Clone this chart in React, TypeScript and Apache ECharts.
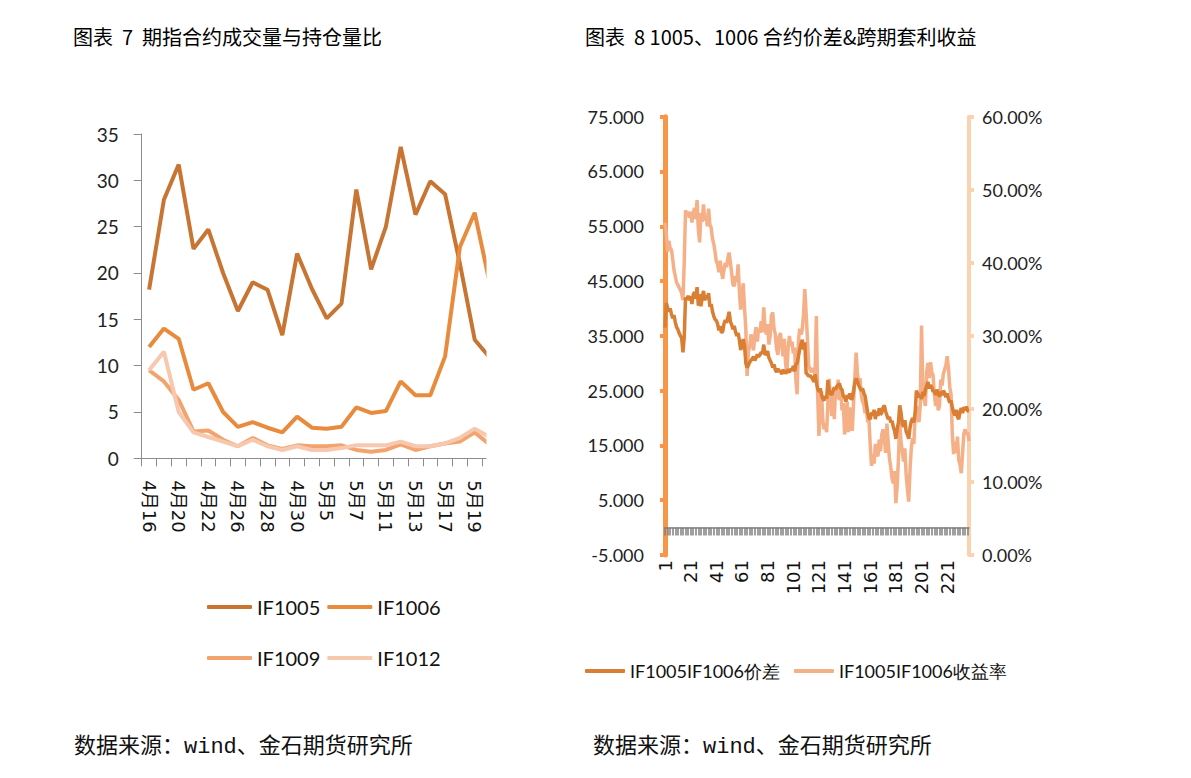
import React, { useEffect, useRef } from "react";
import * as echarts from "echarts";

// ---------- Left chart: 期指合约成交量与持仓量比 ----------
const leftCats = [
  "4月16", "4月19", "4月20", "4月21", "4月22", "4月23", "4月26", "4月27",
  "4月28", "4月29", "4月30", "5月4", "5月5", "5月6", "5月7", "5月10",
  "5月11", "5月12", "5月13", "5月14", "5月17", "5月18", "5月19", "5月20",
];
const if1005 = [18.2, 27.9, 31.7, 22.6, 24.7, 20.0, 15.9, 19.0, 18.2, 13.3, 22.1, 18.3, 15.1, 16.7, 29.0, 20.4, 25.0, 33.6, 26.3, 29.9, 28.5, 21.0, 12.8, 10.9];
const if1006 = [12.0, 14.0, 12.9, 7.4, 8.1, 5.0, 3.4, 3.9, 3.3, 2.8, 4.5, 3.3, 3.2, 3.4, 5.5, 4.9, 5.1, 8.3, 6.8, 6.8, 11.0, 22.8, 26.5, 19.0];
const if1009 = [9.5, 8.3, 6.3, 2.9, 3.0, 2.0, 1.3, 2.2, 1.4, 1.0, 1.4, 1.3, 1.3, 1.4, 0.9, 0.7, 0.9, 1.5, 0.9, 1.3, 1.6, 1.8, 2.8, 1.5];
const if1012 = [9.5, 11.5, 5.0, 2.8, 2.3, 1.8, 1.3, 2.0, 1.3, 0.9, 1.3, 0.9, 0.9, 1.1, 1.4, 1.4, 1.4, 1.8, 1.3, 1.3, 1.6, 2.2, 3.2, 2.3];

// ---------- Right chart: 1005、1006 合约价差 & 跨期套利收益 ----------
const spread = [
  36.5, 41.0, 40.2, 39.5, 40.0, 39.0, 38.2, 38.8, 37.5, 36.6,
  36.2, 35.5, 35.0, 34.6, 32.0, 34.8, 42.0, 41.6, 42.3, 41.5,
  42.2, 40.8, 42.5, 43.0, 41.8, 43.9, 40.5, 42.6, 40.4, 42.0,
  43.2, 41.5, 42.4, 41.7, 42.8, 40.3, 40.8, 39.5, 38.6, 38.0,
  37.8, 37.2, 36.0, 36.8, 35.6, 35.8, 37.2, 37.9, 37.4, 38.3,
  39.4, 37.6, 37.0, 36.2, 36.8, 35.7, 35.0, 35.5, 34.2, 32.4,
  33.4, 34.4, 33.2, 30.0, 29.2, 29.6, 30.2, 30.5, 30.8, 31.2,
  30.5, 31.0, 31.6, 31.2, 31.5, 32.0, 31.8, 33.4, 31.5, 31.8,
  32.2, 31.0, 30.5, 30.0, 29.2, 29.8, 28.8, 28.4, 29.0, 28.5,
  28.6, 28.0, 28.8, 28.5, 28.2, 28.4, 28.9, 28.3, 29.0, 28.6,
  29.5, 28.5, 29.8, 30.0, 31.2, 32.5, 33.5, 34.3, 32.5, 33.8,
  28.2, 28.0, 27.6, 27.8, 27.5, 27.2, 26.6, 28.0, 26.5, 25.3,
  24.8, 25.4, 24.2, 23.6, 23.2, 24.0, 23.5, 26.9, 25.0, 24.5,
  24.2, 25.0, 25.6, 25.2, 25.8, 26.0, 26.3, 25.4, 25.2, 24.0,
  23.8, 23.0, 24.2, 23.6, 24.5, 23.4, 23.6, 25.0, 26.5, 27.2,
  26.8, 26.0, 25.5, 25.0, 25.4, 24.6, 24.0, 22.5, 21.0, 20.0,
  19.8, 21.0, 20.5, 21.5, 19.8, 21.2, 20.4, 21.8, 20.6, 21.0,
  21.9, 22.3, 21.2, 20.5, 19.8, 20.2, 19.2, 19.5, 18.4, 17.6,
  16.2, 18.0, 19.2, 22.3, 21.0, 19.0, 18.4, 19.6, 17.5, 17.0,
  16.2, 18.2, 19.4, 20.0, 19.2, 21.0, 25.0, 24.5, 23.8, 24.2,
  23.5, 24.8, 24.0, 25.2, 25.8, 26.6, 25.4, 26.0, 25.6, 24.8,
  25.0, 24.2, 25.2, 24.5, 23.9, 24.8, 24.2, 25.0, 24.6, 23.8,
  24.5, 23.5, 22.8, 23.2, 22.0, 21.0, 20.5, 21.5, 20.2, 19.8,
  21.2, 21.8, 20.9, 22.0, 21.4, 22.1, 21.3, 21.2,
];
const yieldPct = [
  45.5, 44.0, 41.5, 43.0, 42.0, 41.8, 40.5, 39.0, 38.2, 37.3,
  37.0, 36.6, 36.3, 35.8, 34.9, 40.0, 47.2, 46.5, 47.0, 46.2,
  47.0, 45.5, 46.8, 47.5, 46.0, 48.6, 44.5, 42.8, 46.8, 45.6,
  48.0, 45.8, 46.6, 45.0, 47.4, 45.2, 44.8, 43.3, 42.6, 41.5,
  40.2, 39.8, 38.7, 40.3, 38.8, 37.8, 39.0, 40.0, 39.4, 40.6,
  41.4, 40.0, 38.5, 37.0, 36.8, 38.2, 37.4, 39.8, 36.0, 33.6,
  35.5, 37.2, 33.8, 31.0, 24.5, 27.8, 28.5, 30.2, 29.6, 28.0,
  30.0, 31.2, 29.2, 31.0, 30.4, 32.0, 30.5, 33.9, 31.0, 30.2,
  31.6, 28.8, 30.0, 32.8, 33.2, 31.0, 30.2, 28.2, 27.4, 29.8,
  30.4, 28.6, 27.2, 29.6, 26.2, 24.8, 28.4, 30.0, 28.6, 29.2,
  27.6, 28.4, 24.0, 22.0, 29.2, 31.0, 30.2, 30.8, 33.0, 36.4,
  33.2, 29.8, 26.0, 25.4, 25.0, 25.6, 25.2, 24.8, 32.7, 22.0,
  16.3, 19.5, 22.4, 18.5, 17.2, 18.0, 16.8, 21.0, 24.1, 21.0,
  19.0, 22.2, 18.6, 23.0, 21.4, 24.0, 21.2, 22.6, 19.8, 20.8,
  16.5, 17.8, 21.0, 16.8, 20.2, 18.6, 17.0, 20.8, 24.4, 27.7,
  25.0, 23.4, 24.2, 22.0, 21.0, 20.6, 19.4, 20.0, 18.2, 18.6,
  15.0, 12.2, 13.8, 12.5, 15.2, 14.0, 13.5, 15.8, 14.2, 16.5,
  17.2, 16.0, 14.0, 18.0, 15.5, 13.2, 12.0, 10.5, 9.8, 11.5,
  7.1, 9.4, 13.2, 18.1, 15.5, 14.2, 12.8, 14.6, 11.0, 9.0,
  7.3, 11.6, 14.6, 16.0, 15.2, 18.8, 20.4, 19.0, 18.2, 20.5,
  31.4, 23.0, 21.2, 20.4, 25.0, 26.3, 24.2, 26.4, 25.0, 24.6,
  22.0, 20.4, 22.6, 19.8, 20.4, 24.0, 23.2, 24.8, 25.4, 26.0,
  27.2, 25.5, 23.0, 22.0, 16.5, 13.8, 15.5, 14.0, 16.2, 13.0,
  12.4, 11.2, 14.0, 16.6, 17.2, 16.5, 16.8, 15.6,
];
const rightCats = spread.map((_, i) => String(i + 1));

const NUM_FONT = "Lato, 'Noto Sans', sans-serif";
const ROT_FONT = "'DejaVu Sans', 'Noto Sans CJK SC', sans-serif";
const CJK_FONT = "'Noto Sans CJK SC', sans-serif";
const FOOT_FONT = "'Liberation Mono', 'Noto Sans CJK SC', monospace";

export default function App() {
  const ref = useRef<HTMLDivElement>(null);

  useEffect(() => {
    if (!ref.current) return;
    const chart = echarts.init(ref.current, undefined, { renderer: "svg" });

    const leftColors = ["#C87533", "#E98B3C", "#F3A46E", "#F7C7AE"];

    const legendBase = {
      padding: 0,
      icon: "roundRect",
      itemHeight: 4,
    };

    const option: any = {
      animation: false,
      backgroundColor: "#ffffff",
      title: [
        {
          text: "图表  7  期指合约成交量与持仓量比",
          left: 73, top: 26, padding: 0,
          textStyle: { fontFamily: CJK_FONT, fontSize: 20, fontWeight: "normal", color: "#000" },
        },
        {
          text: "图表  8 1005、1006 合约价差&跨期套利收益",
          left: 585, top: 26, padding: 0,
          textStyle: { fontFamily: CJK_FONT, fontSize: 20, fontWeight: "normal", color: "#000" },
        },
        {
          text: "数据来源：wind、金石期货研究所",
          left: 74, top: 736, padding: 0,
          textStyle: { fontFamily: FOOT_FONT, fontSize: 22, fontWeight: "normal", color: "#111" },
        },
        {
          text: "数据来源：wind、金石期货研究所",
          left: 593, top: 736, padding: 0,
          textStyle: { fontFamily: FOOT_FONT, fontSize: 22, fontWeight: "normal", color: "#111" },
        },
      ],
      legend: [
        {
          ...legendBase,
          data: ["IF1005", "IF1006"],
          left: 207, top: 597,
          itemWidth: 45, itemGap: 7,
          textStyle: { fontFamily: NUM_FONT, fontSize: 20, color: "#111" },
        },
        {
          ...legendBase,
          data: ["IF1009", "IF1012"],
          left: 207, top: 648,
          itemWidth: 45, itemGap: 7,
          textStyle: { fontFamily: NUM_FONT, fontSize: 20, color: "#111" },
        },
        {
          ...legendBase,
          data: ["IF1005IF1006价差", "IF1005IF1006收益率"],
          left: 585, top: 662,
          itemWidth: 40, itemGap: 14,
          textStyle: { fontFamily: NUM_FONT, fontSize: 18, color: "#111" },
        },
      ],
      grid: [
        { left: 141.7, top: 134, width: 355.2, height: 324.3 },
        { left: 665, top: 116.7, width: 304, height: 438.3 },
      ],
      xAxis: [
        {
          type: "category", gridIndex: 0, data: leftCats, boundaryGap: true,
          axisLine: { lineStyle: { color: "#8c8c8c", width: 1 } },
          axisTick: { show: true, interval: 0, length: 8, lineStyle: { color: "#8c8c8c" } },
          axisLabel: { interval: 1, rotate: -90, margin: 22, fontFamily: ROT_FONT, fontSize: 18, color: "#111" },
        },
        {
          type: "category", gridIndex: 1, data: rightCats, boundaryGap: false, position: "bottom",
          axisLine: { show: false, onZero: false },
          axisTick: { show: false },
          axisLabel: { interval: 19, rotate: 90, margin: 5, fontFamily: ROT_FONT, fontSize: 18, color: "#111" },
        },
        {
          type: "category", gridIndex: 1, data: rightCats, boundaryGap: false, position: "top",
          axisLine: { show: true, onZero: true, onZeroAxisIndex: 1, lineStyle: { color: "#808080", width: 1.5 } },
          axisTick: { show: true, inside: true, interval: 1, length: 8, lineStyle: { color: "#808080", width: 1.5 } },
          axisLabel: { show: false },
        },
      ],
      yAxis: [
        {
          type: "value", gridIndex: 0, min: 0, max: 35, interval: 5,
          axisLine: { show: true, lineStyle: { color: "#8c8c8c", width: 1 } },
          axisTick: { show: true, length: 8, lineStyle: { color: "#8c8c8c" } },
          splitLine: { show: false },
          axisLabel: { margin: 23, fontFamily: NUM_FONT, fontSize: 19, color: "#222" },
        },
        {
          type: "value", gridIndex: 1, min: -5, max: 75, interval: 10, position: "left",
          axisLine: { show: true, lineStyle: { color: "#F79646", width: 5 } },
          axisTick: { show: true, length: 5, lineStyle: { color: "#F79646", width: 4 } },
          splitLine: { show: false },
          axisLabel: { margin: 21, fontFamily: NUM_FONT, fontSize: 18, color: "#222", formatter: (v: number) => v.toFixed(3) },
        },
        {
          type: "value", gridIndex: 1, min: 0, max: 60, interval: 10, position: "right",
          axisLine: { show: true, lineStyle: { color: "#FBD2AE", width: 4 } },
          axisTick: { show: true, length: 5, lineStyle: { color: "#FBD2AE", width: 4 } },
          splitLine: { show: false },
          axisLabel: { margin: 13, fontFamily: NUM_FONT, fontSize: 18, color: "#222", formatter: (v: number) => v.toFixed(2) + "%" },
        },
      ],
      series: [
        { name: "IF1005", type: "line", xAxisIndex: 0, yAxisIndex: 0, data: if1005, symbol: "none", color: leftColors[0], lineStyle: { width: 4, color: leftColors[0] } },
        { name: "IF1006", type: "line", xAxisIndex: 0, yAxisIndex: 0, data: if1006, symbol: "none", color: leftColors[1], lineStyle: { width: 4, color: leftColors[1] } },
        { name: "IF1009", type: "line", xAxisIndex: 0, yAxisIndex: 0, data: if1009, symbol: "none", color: leftColors[2], lineStyle: { width: 4, color: leftColors[2] } },
        { name: "IF1012", type: "line", xAxisIndex: 0, yAxisIndex: 0, data: if1012, symbol: "none", color: leftColors[3], lineStyle: { width: 4, color: leftColors[3] } },
        { name: "IF1005IF1006收益率", type: "line", xAxisIndex: 1, yAxisIndex: 2, data: yieldPct, symbol: "none", color: "#F5B088", lineStyle: { width: 3.5, color: "#F5B088" }, z: 2 },
        { name: "IF1005IF1006价差", type: "line", xAxisIndex: 1, yAxisIndex: 1, data: spread, symbol: "none", color: "#D97E33", lineStyle: { width: 3.5, color: "#D97E33" }, z: 3 },
      ],
      graphic: [
        { type: "rect", z: 100, shape: { x: 486.5, y: 110, width: 20, height: 360 }, style: { fill: "#ffffff" } },
      ],
    };

    chart.setOption(option);
    return () => chart.dispose();
  }, []);

  return (
    <div
      ref={ref}
      style={{ position: "fixed", left: 0, top: 0, width: 1191, height: 778, background: "#fff" }}
    />
  );
}
